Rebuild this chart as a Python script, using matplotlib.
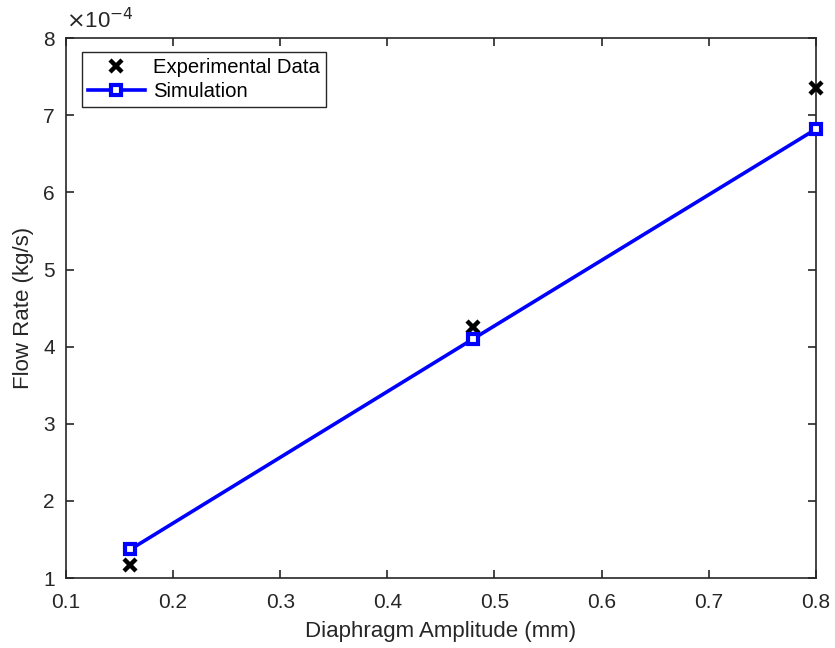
import matplotlib
matplotlib.use("Agg")
import matplotlib.pyplot as plt

plt.rcParams['font.family'] = ['Liberation Sans', 'DejaVu Sans']

amplitude = [0.16, 0.48, 0.80]
exp_flow = [1.17, 4.26, 7.36]   # x 1e-4 kg/s
sim_flow = [1.37, 4.10, 6.82]   # x 1e-4 kg/s

fig = plt.figure(figsize=(8.35, 6.48), dpi=100)
ax = fig.add_axes([0.079, 0.108, 0.898, 0.833])

ax.plot(amplitude, exp_flow, linestyle='none', marker='x', color='black',
        markersize=9, markeredgewidth=3.2, label='Experimental Data',
        zorder=3, clip_on=False)
ax.plot(amplitude, sim_flow, color='blue', linewidth=2.6, marker='s',
        markersize=7, markerfacecolor='white', markeredgecolor='blue',
        markeredgewidth=3, label='Simulation', zorder=4, clip_on=False)

ax.set_xlim(0.1, 0.8)
ax.set_ylim(1, 8)
ax.set_xticks([0.1, 0.2, 0.3, 0.4, 0.5, 0.6, 0.7, 0.8])
ax.set_xticklabels(['0.1', '0.2', '0.3', '0.4', '0.5', '0.6', '0.7', '0.8'])
ax.set_yticks(range(1, 9))
ax.tick_params(direction='in', top=True, right=True, labelsize=15,
               length=6, width=1.2, colors='#262626')
ax.tick_params(axis='x', pad=11)
ax.tick_params(axis='y', pad=8)
for s in ax.spines.values():
    s.set_linewidth(1.2)
    s.set_color('#262626')

ax.set_xlabel('Diaphragm Amplitude (mm)', fontsize=16, color='#262626',
              labelpad=6)
ax.set_ylabel('Flow Rate (kg/s)', fontsize=16, color='#262626', labelpad=7)
ax.text(0.0, 1.01, r'$\times$10$^{-4}$', transform=ax.transAxes,
        fontsize=16, color='#262626', va='bottom', ha='left')

leg = ax.legend(loc='upper left', bbox_to_anchor=(0.021, 0.975), fontsize=14.6,
                fancybox=False, edgecolor='#262626', framealpha=1,
                handlelength=2.8, borderpad=0.3, labelspacing=0.25,
                handletextpad=0.4, borderaxespad=0)
leg.get_frame().set_linewidth(1.0)

fig.savefig('out.png', dpi=100)
